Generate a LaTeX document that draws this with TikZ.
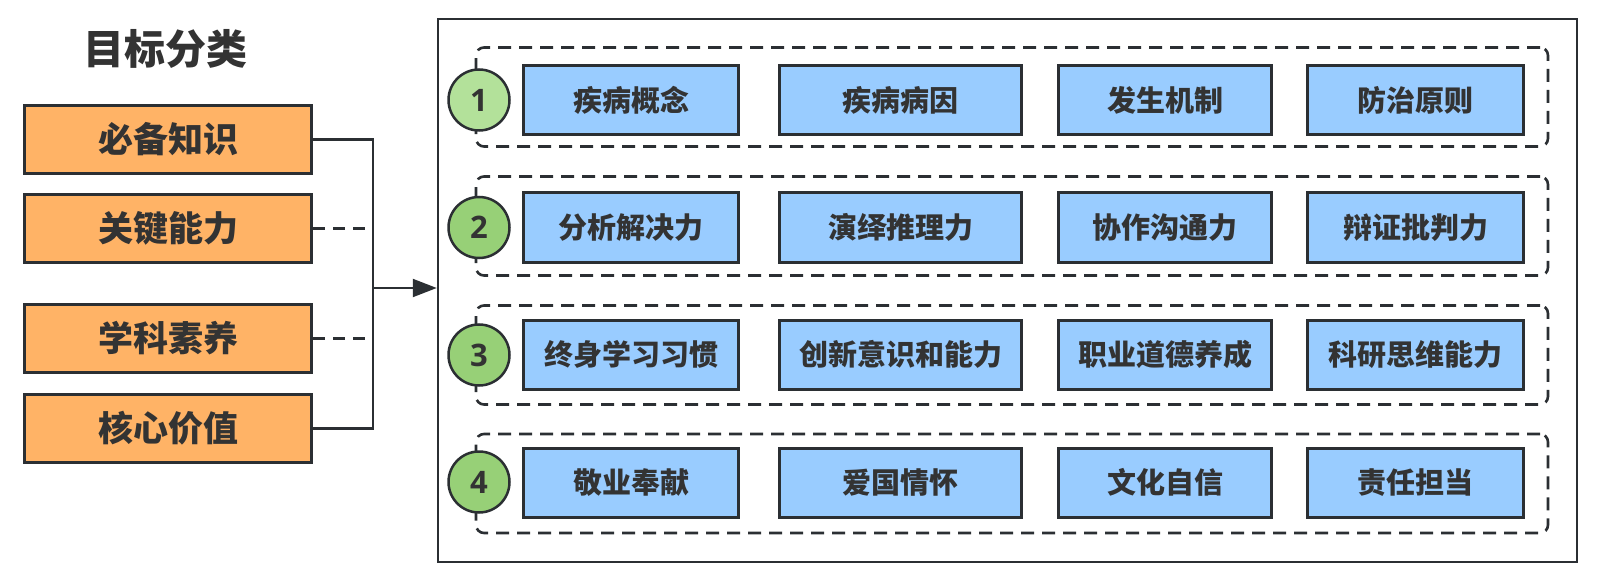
\documentclass[tikz,border=0pt]{standalone}
\usepackage{fontspec}
\setmainfont{Noto Sans CJK SC}
\newfontfamily\digitfont{Open Sans}
\usetikzlibrary{arrows.meta}
\definecolor{ink}{HTML}{2B2F33}
\definecolor{txt}{HTML}{333333}
\definecolor{orangef}{HTML}{FFB366}
\definecolor{bluef}{HTML}{99CCFF}
\definecolor{greenA}{HTML}{B3E19A}
\definecolor{greenB}{HTML}{97D077}
\tikzset{
  leftbox/.style={draw=ink, line width=3pt, fill=orangef, minimum width=287pt, minimum height=68pt, inner sep=0pt, text=txt, font=\fontsize{35}{40}\selectfont\bfseries},
  bluebox/.style={draw=ink, line width=3pt, fill=bluef, minimum height=69pt, inner sep=0pt, text=txt, font=\fontsize{29}{34}\selectfont\bfseries},
  group/.style={draw=ink, line width=2.6pt, dash pattern=on 13pt off 8pt, rounded corners=8pt, minimum width=1072pt, minimum height=99pt, inner sep=0pt},
  numc/.style={circle, draw=ink, line width=2.5pt, minimum size=61pt, inner sep=0pt, text=txt, font=\digitfont\fontsize{31}{36}\selectfont\bfseries},
  conn/.style={draw=ink, line width=2.2pt},
  dconn/.style={conn, dash pattern=on 12pt off 8pt},
}
\begin{document}
\begin{tikzpicture}[x=1pt, y=-1pt]
\useasboundingbox (0,0) rectangle (1598,580);
% title
\node[text=txt, font=\fontsize{41}{46}\selectfont\bfseries] (title) at (165,49) {目标分类};
% left boxes
\node[leftbox] (l1) at (168,139.5) {必备知识};
\node[leftbox] (l2) at (168,228.5) {关键能力};
\node[leftbox] (l3) at (168,338.5) {学科素养};
\node[leftbox] (l4) at (168,428.5) {核心价值};
% main box
\node[draw=ink, line width=2.5pt, minimum width=1139pt, minimum height=543pt, inner sep=0pt] (main) at (1007.5,290.5) {};
% connectors
\coordinate (jt) at (373,139.5);
\coordinate (jb) at (373,428.5);
\coordinate (j) at (373,288);
\draw[conn] (l1.east) -- (jt) -- (jb) -- (l4.east);
\draw[dconn] (l2.east) -- (l2.east -| j);
\draw[dconn] (l3.east) -- (l3.east -| j);
\draw[conn, -{Triangle[length=24pt, width=18pt]}] (j) -- (j -| main.west);
% groups
\node[group] (g1) at (1012,97) {};
\node[group] (g2) at (1012,226) {};
\node[group] (g3) at (1012,355) {};
\node[group] (g4) at (1012,483.5) {};
% circles
\node[numc, fill=greenA] (n1) at (479,100) {1};
\node[numc, fill=greenB] (n2) at (479,227.5) {2};
\node[numc, fill=greenB] (n3) at (479,355) {3};
\node[numc, fill=greenB] (n4) at (479,482) {4};
% row 1
\node[bluebox, minimum width=215pt] (a1) at (631,100) {疾病概念};
\node[bluebox, minimum width=242pt] (a2) at (900.5,100) {疾病病因};
\node[bluebox, minimum width=213pt] (a3) at (1165,100) {发生机制};
\node[bluebox, minimum width=216pt] (a4) at (1415.5,100) {防治原则};
% row 2
\node[bluebox, minimum width=215pt] (b1) at (631,227.5) {分析解决力};
\node[bluebox, minimum width=242pt] (b2) at (900.5,227.5) {演绎推理力};
\node[bluebox, minimum width=213pt] (b3) at (1165,227.5) {协作沟通力};
\node[bluebox, minimum width=216pt] (b4) at (1415.5,227.5) {辩证批判力};
% row 3
\node[bluebox, minimum width=215pt] (c1) at (631,354.5) {终身学习习惯};
\node[bluebox, minimum width=242pt] (c2) at (900.5,354.5) {创新意识和能力};
\node[bluebox, minimum width=213pt] (c3) at (1165,354.5) {职业道德养成};
\node[bluebox, minimum width=216pt] (c4) at (1415.5,354.5) {科研思维能力};
% row 4
\node[bluebox, minimum width=215pt] (d1) at (631,482.5) {敬业奉献};
\node[bluebox, minimum width=242pt] (d2) at (900.5,482.5) {爱国情怀};
\node[bluebox, minimum width=213pt] (d3) at (1165,482.5) {文化自信};
\node[bluebox, minimum width=216pt] (d4) at (1415.5,482.5) {责任担当};
\end{tikzpicture}
\end{document}
